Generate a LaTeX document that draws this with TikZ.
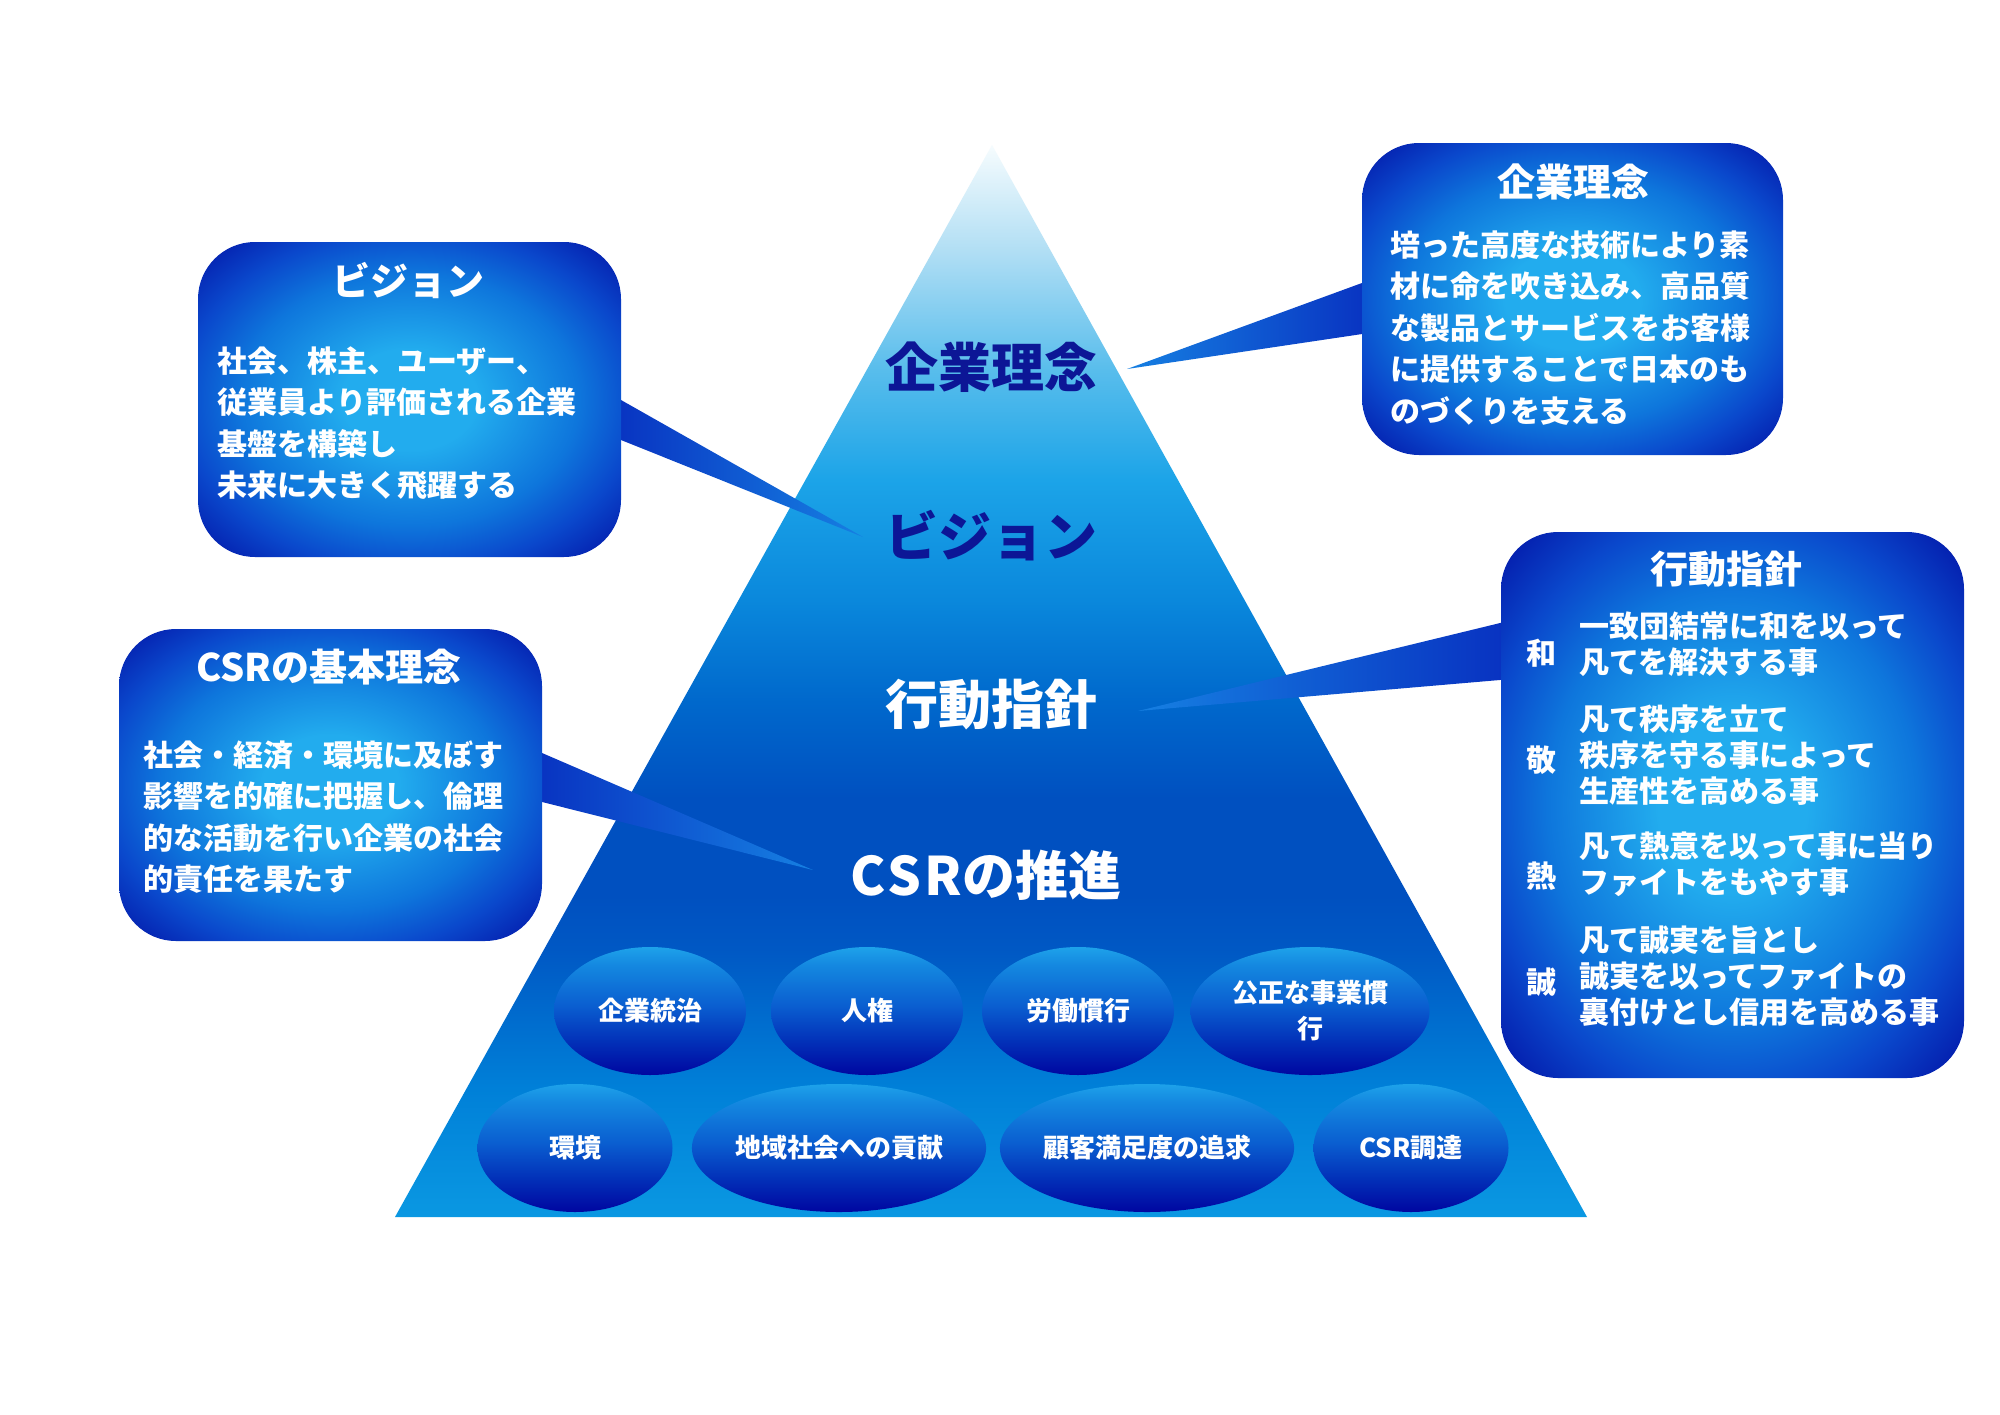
\documentclass[tikz,border=0pt]{standalone}
\usepackage{fontspec}
\newfontfamily\jp{Noto Sans CJK JP}
\usetikzlibrary{shapes.geometric}

\definecolor{navytxt}{RGB}{12,22,150}
% pyramid colours (bottom -> top)
\definecolor{pb0}{RGB}{10,152,226}
\definecolor{pb1}{RGB}{0,128,216}
\definecolor{pb2}{RGB}{0,88,196}
\definecolor{pb3}{RGB}{0,80,192}
\definecolor{pb4}{RGB}{0,104,204}
\definecolor{pb5}{RGB}{10,136,220}
\definecolor{pb6}{RGB}{28,164,232}
\definecolor{pb7}{RGB}{88,189,236}
\definecolor{pb8}{RGB}{176,222,244}
\definecolor{pb9}{RGB}{246,252,254}
% box colours
\definecolor{bx0}{RGB}{34,172,238}
\definecolor{bx1}{RGB}{14,118,220}
\definecolor{bx2}{RGB}{10,72,204}
\definecolor{bx3}{RGB}{4,28,172}
% ellipse colours (bottom -> top)
\definecolor{el0}{RGB}{0,6,160}
\definecolor{el1}{RGB}{2,48,184}
\definecolor{el2}{RGB}{10,94,208}
\definecolor{el3}{RGB}{20,136,224}
\definecolor{el4}{RGB}{30,162,234}
% wedge colours
\definecolor{wdark}{RGB}{8,48,192}
\definecolor{wlight}{RGB}{22,128,226}

\pgfdeclareverticalshading{pyrshade}{100bp}{color(0bp)=(pb0); color(25bp)=(pb0); color(31bp)=(pb1); color(37.5bp)=(pb2); color(40bp)=(pb3); color(44.5bp)=(pb3); color(49bp)=(pb4); color(53.8bp)=(pb5); color(59.4bp)=(pb6); color(64.5bp)=(pb7); color(70bp)=(pb8); color(75bp)=(pb9); color(100bp)=(pb9)}
\pgfdeclareradialshading{boxshade}{\pgfpoint{0bp}{0bp}}{color(0bp)=(bx0); color(8bp)=(bx0); color(20bp)=(bx1); color(27bp)=(bx2); color(34bp)=(bx3); color(50bp)=(bx3)}
\pgfdeclareverticalshading{ellshade}{100bp}{color(0bp)=(el0); color(25bp)=(el0); color(38bp)=(el1); color(52bp)=(el2); color(68bp)=(el3); color(75bp)=(el4); color(100bp)=(el4)}

\tikzset{
  ell/.style={ellipse, shade, shading=ellshade, inner sep=0pt, text=white, align=center,
    font=\jp\bfseries\fontsize{26}{36}\selectfont, minimum height=128},
  callbox/.style={rectangle, rounded corners=57, shade, shading=boxshade, inner sep=0pt},
  boxtitle/.style={inner sep=0pt, text=white, font=\jp\bfseries\fontsize{38}{44}\selectfont},
  boxbody/.style={inner sep=0pt, text=white, align=left, anchor=west, font=\jp\bfseries\fontsize{30}{41.5}\selectfont},
  actbody/.style={inner sep=0pt, text=white, align=left, anchor=west, font=\jp\bfseries\fontsize{30}{36}\selectfont},
  actkey/.style={inner sep=0pt, text=white, font=\jp\bfseries\fontsize{30}{36}\selectfont},
  pyrlabel/.style={inner sep=0pt, font=\jp\bfseries\fontsize{53}{60}\selectfont},
  wedgeL/.style={left color=wdark, right color=wlight},
  wedgeR/.style={left color=wlight, right color=wdark}
}

\begin{document}
\begin{tikzpicture}[x=1pt,y=-1pt]
\useasboundingbox (0,0) rectangle (2000,1414);
\fill[white] (0,0) rectangle (2000,1414);

% pyramid
\coordinate (apex) at (992,145);
\coordinate (baseR) at (1587,1217);
\coordinate (baseL) at (395,1217);
\shade[shading=pyrshade] (apex) -- (baseR) -- (baseL) -- cycle;

% pyramid labels
\node[pyrlabel, text=navytxt] (pK) at (991,367) {企業理念};
\node[pyrlabel, text=navytxt] (pV) at (991,536) {ビジョン};
\node[pyrlabel, text=white] (pA) at (991,705) {行動指針};
\node[pyrlabel, text=white] (pC) at (986,875) {\addfontfeatures{LetterSpace=6}CSR\addfontfeatures{LetterSpace=0}の推進};

% ellipses
\node[ell, minimum width=192] (e1) at (650,1011) {企業統治};
\node[ell, minimum width=192] (e2) at (867,1011) {人権};
\node[ell, minimum width=192] (e3) at (1078,1011) {労働慣行};
\node[ell, minimum width=239] (e4) at (1310,1011) {公正な事業慣\\行};
\node[ell, minimum width=195] (e5) at (575,1148) {環境};
\node[ell, minimum width=281] (e6) at (839,1148) {地域社会への貢献};
\node[ell, minimum width=278] (e7) at (1147,1148) {顧客満足度の追求};
\node[ell, minimum width=195] (e8) at (1411,1148) {CSR調達};

% wedge points
\coordinate (tipV) at (863,537);
\coordinate (v1) at (606,391.5);
\coordinate (v2) at (606,434);
\coordinate (tipK) at (1127,369);
\coordinate (k1) at (1377,277.5);
\coordinate (k2) at (1377,331.8);
\coordinate (tipC) at (813,870);
\coordinate (c1) at (527,746.5);
\coordinate (c2) at (527,798.2);
\coordinate (tipA) at (1138,711);
\coordinate (a1) at (1515,619.4);
\coordinate (a2) at (1515,678.7);

\shade[wedgeL] (v1) -- (tipV) -- (v2) -- cycle;
\shade[wedgeR] (k1) -- (tipK) -- (k2) -- cycle;
\shade[wedgeL] (c1) -- (tipC) -- (c2) -- cycle;
\shade[wedgeR] (a1) -- (tipA) -- (a2) -- cycle;

% boxes
\node[callbox, minimum width=423, minimum height=315] (bV) at (409.5,399.5) {};
\node[callbox, minimum width=421, minimum height=312] (bK) at (1572.5,299) {};
\node[callbox, minimum width=423, minimum height=312] (bC) at (330.5,785) {};
\node[callbox, minimum width=463, minimum height=546] (bA) at (1732.5,805) {};

% box texts
\node[boxtitle] (tV) at (408,281) {ビジョン};
\node[boxbody] (dV) at (217,423) {社会、株主、ユーザー、\\従業員より評価される企業\\基盤を構築し\\未来に大きく飛躍する};

\node[boxtitle] (tK) at (1573,182) {企業理念};
\node[boxbody] (dK) at (1390,328) {培った高度な技術により素\\材に命を吹き込み、高品質\\な製品とサービスをお客様\\に提供することで日本のも\\のづくりを支える};

\node[boxtitle] (tC) at (329,667) {CSRの基本理念};
\node[boxbody] (dC) at (143,817) {社会・経済・環境に及ぼす\\影響を的確に把握し、倫理\\的な活動を行い企業の社会\\的責任を果たす};

\node[boxtitle] (tA) at (1726,569) {行動指針};
\node[actkey] (k1w) at (1541,653) {和};
\node[actbody] (d1w) at (1579,644) {一致団結常に和を以って\\凡てを解決する事};
\node[actkey] (k2w) at (1541,760) {敬};
\node[actbody] (d2w) at (1579,755) {凡て秩序を立て\\秩序を守る事によって\\生産性を高める事};
\node[actkey] (k3w) at (1541,876) {熱};
\node[actbody] (d3w) at (1579,864) {凡て熱意を以って事に当り\\ファイトをもやす事};
\node[actkey] (k4w) at (1541,982) {誠};
\node[actbody] (d4w) at (1579,976) {凡て誠実を旨とし\\誠実を以ってファイトの\\裏付けとし信用を高める事};
\end{tikzpicture}
\end{document}
